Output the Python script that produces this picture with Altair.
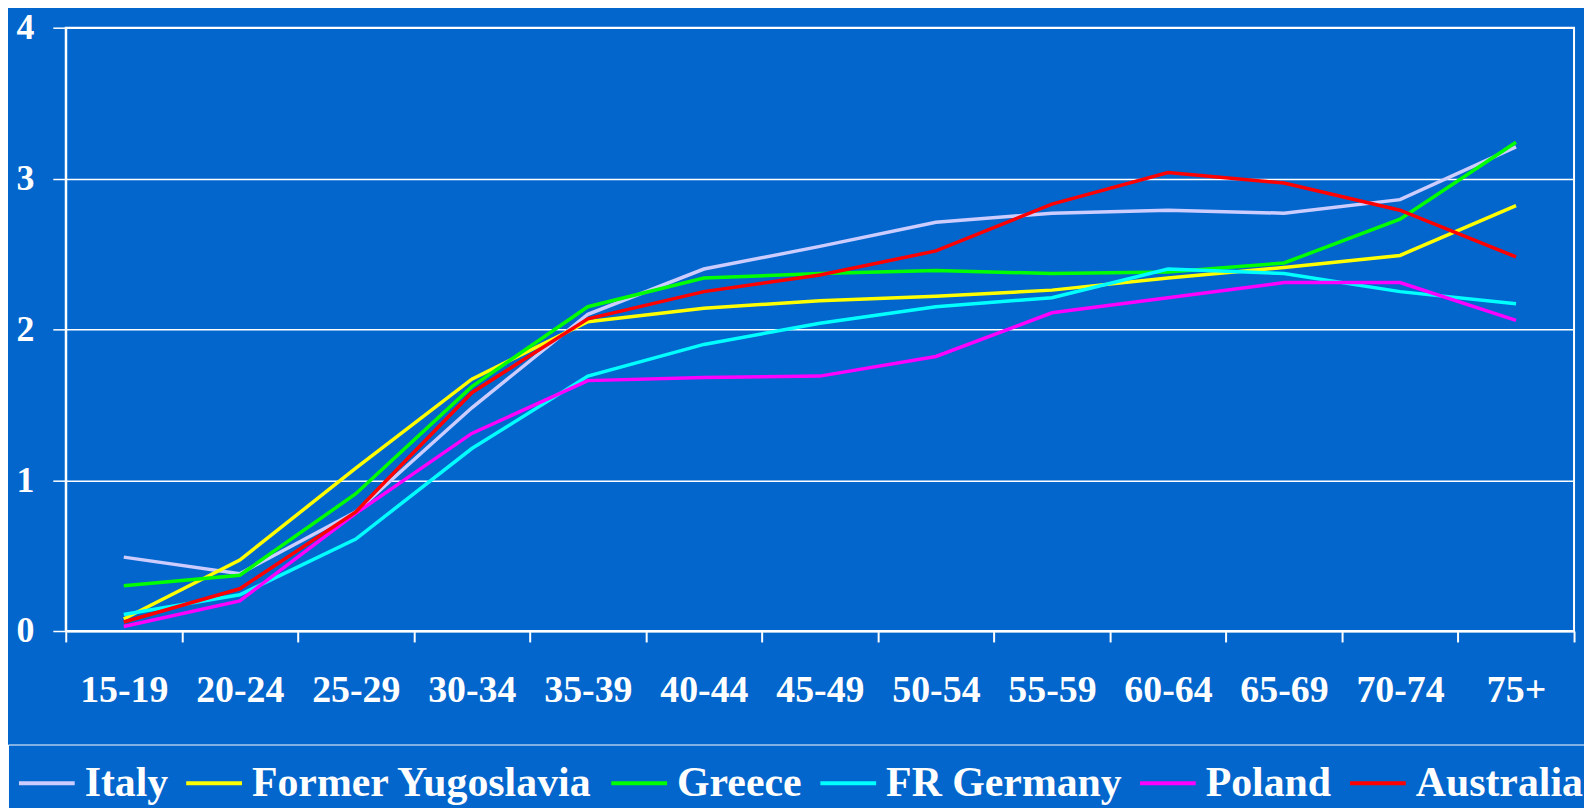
import altair as alt
import pandas as pd

ages = ["15-19", "20-24", "25-29", "30-34", "35-39", "40-44", "45-49",
        "50-54", "55-59", "60-64", "65-69", "70-74", "75+"]

italy =      [0.49, 0.38, 0.79, 1.48, 2.10, 2.40, 2.55, 2.71, 2.77, 2.79, 2.77, 2.86, 3.21]
yugoslavia = [0.08, 0.47, 1.08, 1.67, 2.05, 2.14, 2.19, 2.22, 2.26, 2.34, 2.41, 2.49, 2.82]
greece =     [0.30, 0.37, 0.91, 1.62, 2.15, 2.34, 2.37, 2.39, 2.37, 2.38, 2.44, 2.73, 3.24]
germany =    [0.11, 0.24, 0.61, 1.21, 1.69, 1.90, 2.04, 2.15, 2.21, 2.40, 2.37, 2.25, 2.17]
poland =     [0.03, 0.20, 0.78, 1.31, 1.66, 1.68, 1.69, 1.82, 2.11, 2.21, 2.31, 2.31, 2.06]
australia =  [0.06, 0.28, 0.79, 1.58, 2.07, 2.25, 2.36, 2.52, 2.83, 3.04, 2.97, 2.79, 2.48]

series_names = ["Italy", "Former Yugoslavia", "Greece", "FR Germany", "Poland", "Australia"]
series_values = [italy, yugoslavia, greece, germany, poland, australia]
series_colors = ["#CCCCFF", "#FFFF00", "#00FF00", "#00FFFF", "#FF00FF", "#FF0000"]

rows = []
for order, (name, vals) in enumerate(zip(series_names, series_values)):
    for age, v in zip(ages, vals):
        rows.append({"age": age, "value": v, "country": name, "order": order})
df = pd.DataFrame(rows)

FONT = "Liberation Serif"
BG = "#0366CC"

chart = alt.Chart(df).mark_line(strokeWidth=3.5).encode(
    x=alt.X("age:N", sort=ages,
            scale=alt.Scale(type="band", paddingInner=0, paddingOuter=0),
            axis=alt.Axis(title=None, labelAngle=0, labelFont=FONT,
                          labelFontWeight="bold", labelFontSize=38,
                          labelColor="white", tickColor="white", tickSize=11,
                          tickWidth=2, tickBand="extent", domainColor="white",
                          domainWidth=2, labelPadding=30, grid=False,
                          labelOverlap=False)),
    y=alt.Y("value:Q",
            scale=alt.Scale(domain=[0, 4], nice=False),
            axis=alt.Axis(title=None, values=[0, 1, 2, 3, 4], format="d",
                          labelFont=FONT, labelFontWeight="bold",
                          labelFontSize=36, labelColor="white",
                          tickColor="white", tickSize=13, tickWidth=1.5,
                          domainColor="white", domainWidth=2,
                          gridColor="white", gridWidth=1.5, gridOpacity=1,
                          labelPadding=19)),
    color=alt.Color("country:N",
                    scale=alt.Scale(domain=series_names, range=series_colors),
                    legend=alt.Legend(title=None, orient="none",
                                      direction="horizontal",
                                      columns=6,
                                      legendX=-58, legendY=720,
                                      symbolType="stroke", symbolSize=3136,
                                      symbolStrokeWidth=4,
                                      labelFont=FONT, labelFontWeight="bold",
                                      labelFontSize=42, labelColor="white",
                                      labelOffset=8, columnPadding=10,
                                      padding=9, strokeColor="white",
                                      labelLimit=0)),
    order=alt.Order("order:Q"),
).properties(
    width=1515,
    height=606,
    background=BG,
    padding={"left": 58, "top": 18, "right": 10, "bottom": 176},
    autosize=alt.AutoSizeParams(type="none"),
).configure_view(
    stroke="white", strokeWidth=2, fill=BG
)

chart.save("out.html", embed_options={"renderer": "svg", "actions": False})
